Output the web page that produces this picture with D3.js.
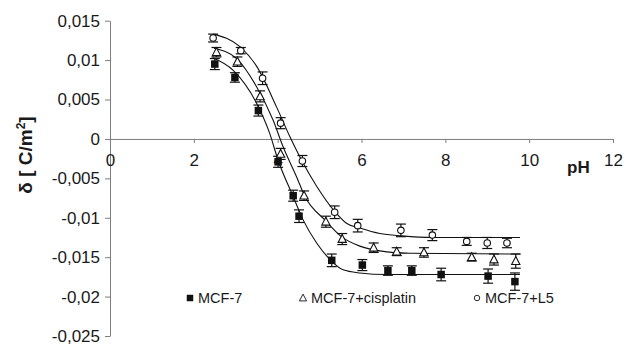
<!DOCTYPE html>
<html>
<head>
<meta charset="utf-8">
<script src="https://cdn.jsdelivr.net/npm/d3@7"></script>
<style>
  body { margin: 0; background: #fff; }
  svg text { font-family: "Liberation Sans", Arial, sans-serif; }
</style>
</head>
<body>
<svg id="chart" width="629" height="345"></svg>
<script>
// measured points (pH, surface charge density) with error bars
const phMCF7 = [2.50, 2.98, 3.54, 4.01, 4.37, 4.51, 5.29, 6.02, 6.63, 7.20, 7.90, 9.02, 9.66];
const deltaMCF7 = [0.0095, 0.0078, 0.0036, -0.0029, -0.0072, -0.0098, -0.0154, -0.0160, -0.0167, -0.0167, -0.0172, -0.0174, -0.0181];
const errMCF7 = [0.0007, 0.0006, 0.0007, 0.0007, 0.0007, 0.0008, 0.0008, 0.0007, 0.0006, 0.0006, 0.0008, 0.0009, 0.0011];

const phCis = [2.54, 3.04, 3.58, 4.07, 4.63, 5.15, 5.54, 6.29, 6.84, 7.49, 8.63, 9.16, 9.68];
const deltaCis = [0.0110, 0.0098, 0.0054, -0.0019, -0.0072, -0.0105, -0.0127, -0.0138, -0.0143, -0.0144, -0.0150, -0.0153, -0.0155];
const errCis = [0.0006, 0.0006, 0.0007, 0.0007, 0.0006, 0.0007, 0.0007, 0.0006, 0.0005, 0.0006, 0.0005, 0.0007, 0.0009];

const phL5 = [2.46, 3.12, 3.64, 4.07, 4.59, 5.36, 5.91, 6.94, 7.69, 8.51, 9.00, 9.47];
const deltaL5 = [0.0128, 0.0112, 0.0077, 0.0020, -0.0028, -0.0093, -0.0110, -0.0116, -0.0122, -0.0130, -0.0132, -0.0132];
const errL5 = [0.0005, 0.0004, 0.0008, 0.0007, 0.0007, 0.0008, 0.0008, 0.0008, 0.0007, 0.0005, 0.0007, 0.0006];

// fitted curves
const fitMCF7Ph = [2.45, 2.94, 3.50, 3.81, 4.01, 4.37, 4.61, 4.93, 5.25, 5.56, 5.96, 6.60, 9.78];
const fitMCF7 = [0.0103, 0.0087, 0.0045, 0.0007, -0.0027, -0.0073, -0.0103, -0.0132, -0.0153, -0.0166, -0.0170, -0.0172, -0.0172];
const fitCisPh = [2.48, 3.02, 3.50, 3.89, 4.13, 4.45, 4.65, 5.13, 5.52, 5.96, 6.44, 7.15, 9.78];
const fitCis = [0.0115, 0.0102, 0.0066, 0.0024, -0.0010, -0.0048, -0.0073, -0.0103, -0.0124, -0.0136, -0.0142, -0.0145, -0.0146];
const fitL5Ph = [2.46, 3.10, 3.50, 3.97, 4.29, 4.59, 4.93, 5.36, 5.64, 5.96, 6.44, 6.96, 7.71, 9.78];
const fitL5 = [0.0133, 0.0117, 0.0092, 0.0041, 0.0003, -0.0029, -0.0060, -0.0092, -0.0107, -0.0113, -0.0120, -0.0123, -0.0125, -0.0125];

const xTicks = [0, 2, 4, 6, 8, 10, 12];
const yTicks = [0.015, 0.01, 0.005, 0, -0.005, -0.01, -0.015, -0.02, -0.025];
const yTickLabels = ["0,015", "0,01", "0,005", "0", "-0,005", "-0,01", "-0,015", "-0,02", "-0,025"];
const seriesNames = ["MCF-7", "MCF-7+cisplatin", "MCF-7+L5"];

const svg = d3.select("#chart");
const x = d3.scaleLinear().domain([0, 12]).range([110, 613]);
const y = d3.scaleLinear().domain([0.015, -0.025]).range([20.7, 336]);
const axisColor = "#7d7d7d";

// y axis
const yAxis = svg.append("g")
  .attr("transform", `translate(${x(0)},0)`)
  .call(d3.axisLeft(y).tickValues(yTicks).tickFormat((d, i) => yTickLabels[i]).tickSize(5).tickSizeOuter(0).tickPadding(5));
yAxis.selectAll("path, line").attr("stroke", axisColor);
yAxis.selectAll("text").attr("font-size", 17).attr("fill", "#1a1a1a")
  .attr("font-family", "Liberation Sans, Arial, sans-serif");

// x axis through zero
const xAxis = svg.append("g")
  .attr("transform", `translate(0,${y(0)})`)
  .call(d3.axisBottom(x).tickValues(xTicks).tickFormat(d3.format("d")).tickSize(4).tickSizeOuter(0).tickPadding(11));
xAxis.selectAll("path, line").attr("stroke", axisColor);
xAxis.selectAll("text").attr("font-size", 17).attr("fill", "#1a1a1a")
  .attr("font-family", "Liberation Sans, Arial, sans-serif");

// axis titles
svg.append("text")
  .attr("x", 567).attr("y", 173)
  .attr("font-size", 17).attr("font-weight", "bold").attr("fill", "#1a1a1a")
  .text("pH");

const yl = svg.append("text")
  .attr("transform", "translate(32,155) rotate(-90)")
  .attr("text-anchor", "middle")
  .attr("font-size", 19).attr("font-weight", "bold").attr("fill", "#1a1a1a");
yl.append("tspan").text("δ  [ C/m");
yl.append("tspan").attr("dy", -7).attr("font-size", 12).text("2");
yl.append("tspan").attr("dy", 7).text("]");

// fitted lines
const line = d3.line().x(d => x(d[0])).y(d => y(d[1])).curve(d3.curveMonotoneX);
const fits = [
  d3.zip(fitMCF7Ph, fitMCF7),
  d3.zip(fitCisPh, fitCis),
  d3.zip(fitL5Ph, fitL5)
];
svg.append("g").selectAll("path")
  .data(fits).enter()
  .append("path")
  .attr("d", line)
  .attr("fill", "none")
  .attr("stroke", "#111")
  .attr("stroke-width", 1.1);

// points + error bars
const series = [
  { name: seriesNames[0], ph: phMCF7, v: deltaMCF7, e: errMCF7, shape: "square" },
  { name: seriesNames[1], ph: phCis, v: deltaCis, e: errCis, shape: "triangle" },
  { name: seriesNames[2], ph: phL5, v: deltaL5, e: errL5, shape: "circle" }
];

function drawMarker(sel, shape, size, sw) {
  if (shape === "square") {
    sel.append("rect").attr("x", -size / 2).attr("y", -size / 2)
      .attr("width", size).attr("height", size).attr("fill", "#111");
  } else if (shape === "triangle") {
    const h = size;
    sel.append("path")
      .attr("d", `M0,${-h * 0.6}L${h * 0.55},${h * 0.45}L${-h * 0.55},${h * 0.45}Z`)
      .attr("fill", "#fff").attr("stroke", "#111").attr("stroke-width", sw);
  } else {
    sel.append("circle").attr("r", size / 2 - 0.5)
      .attr("fill", "#fff").attr("stroke", "#111").attr("stroke-width", sw);
  }
}

series.forEach(s => {
  const pts = s.ph.map((p, i) => ({ p, v: s.v[i], e: s.e[i] }));
  const g = svg.append("g");
  const eb = g.selectAll("g.eb").data(pts).enter().append("g").attr("class", "eb")
    .attr("stroke", "#111").attr("stroke-width", 1.2);
  eb.append("line").attr("x1", d => x(d.p)).attr("x2", d => x(d.p))
    .attr("y1", d => y(d.v + d.e)).attr("y2", d => y(d.v - d.e));
  eb.append("line").attr("x1", d => x(d.p) - 5).attr("x2", d => x(d.p) + 5)
    .attr("y1", d => y(d.v + d.e)).attr("y2", d => y(d.v + d.e));
  eb.append("line").attr("x1", d => x(d.p) - 5).attr("x2", d => x(d.p) + 5)
    .attr("y1", d => y(d.v - d.e)).attr("y2", d => y(d.v - d.e));
  g.selectAll("g.mk").data(pts).enter().append("g").attr("class", "mk")
    .attr("transform", d => `translate(${x(d.p)},${y(d.v)})`)
    .each(function () { drawMarker(d3.select(this), s.shape, 7.5, 1.1); });
});

// legend
const legendX = [190, 303, 477];
const leg = svg.append("g").selectAll("g").data(series).enter().append("g")
  .attr("transform", (d, i) => `translate(${legendX[i]},298)`);
leg.each(function (d) { drawMarker(d3.select(this), d.shape, 6.5, 0.9); });
leg.append("text").attr("x", 8).attr("y", 5)
  .attr("font-size", 14.5).attr("fill", "#1a1a1a")
  .text(d => d.name);
</script>
</body>
</html>
